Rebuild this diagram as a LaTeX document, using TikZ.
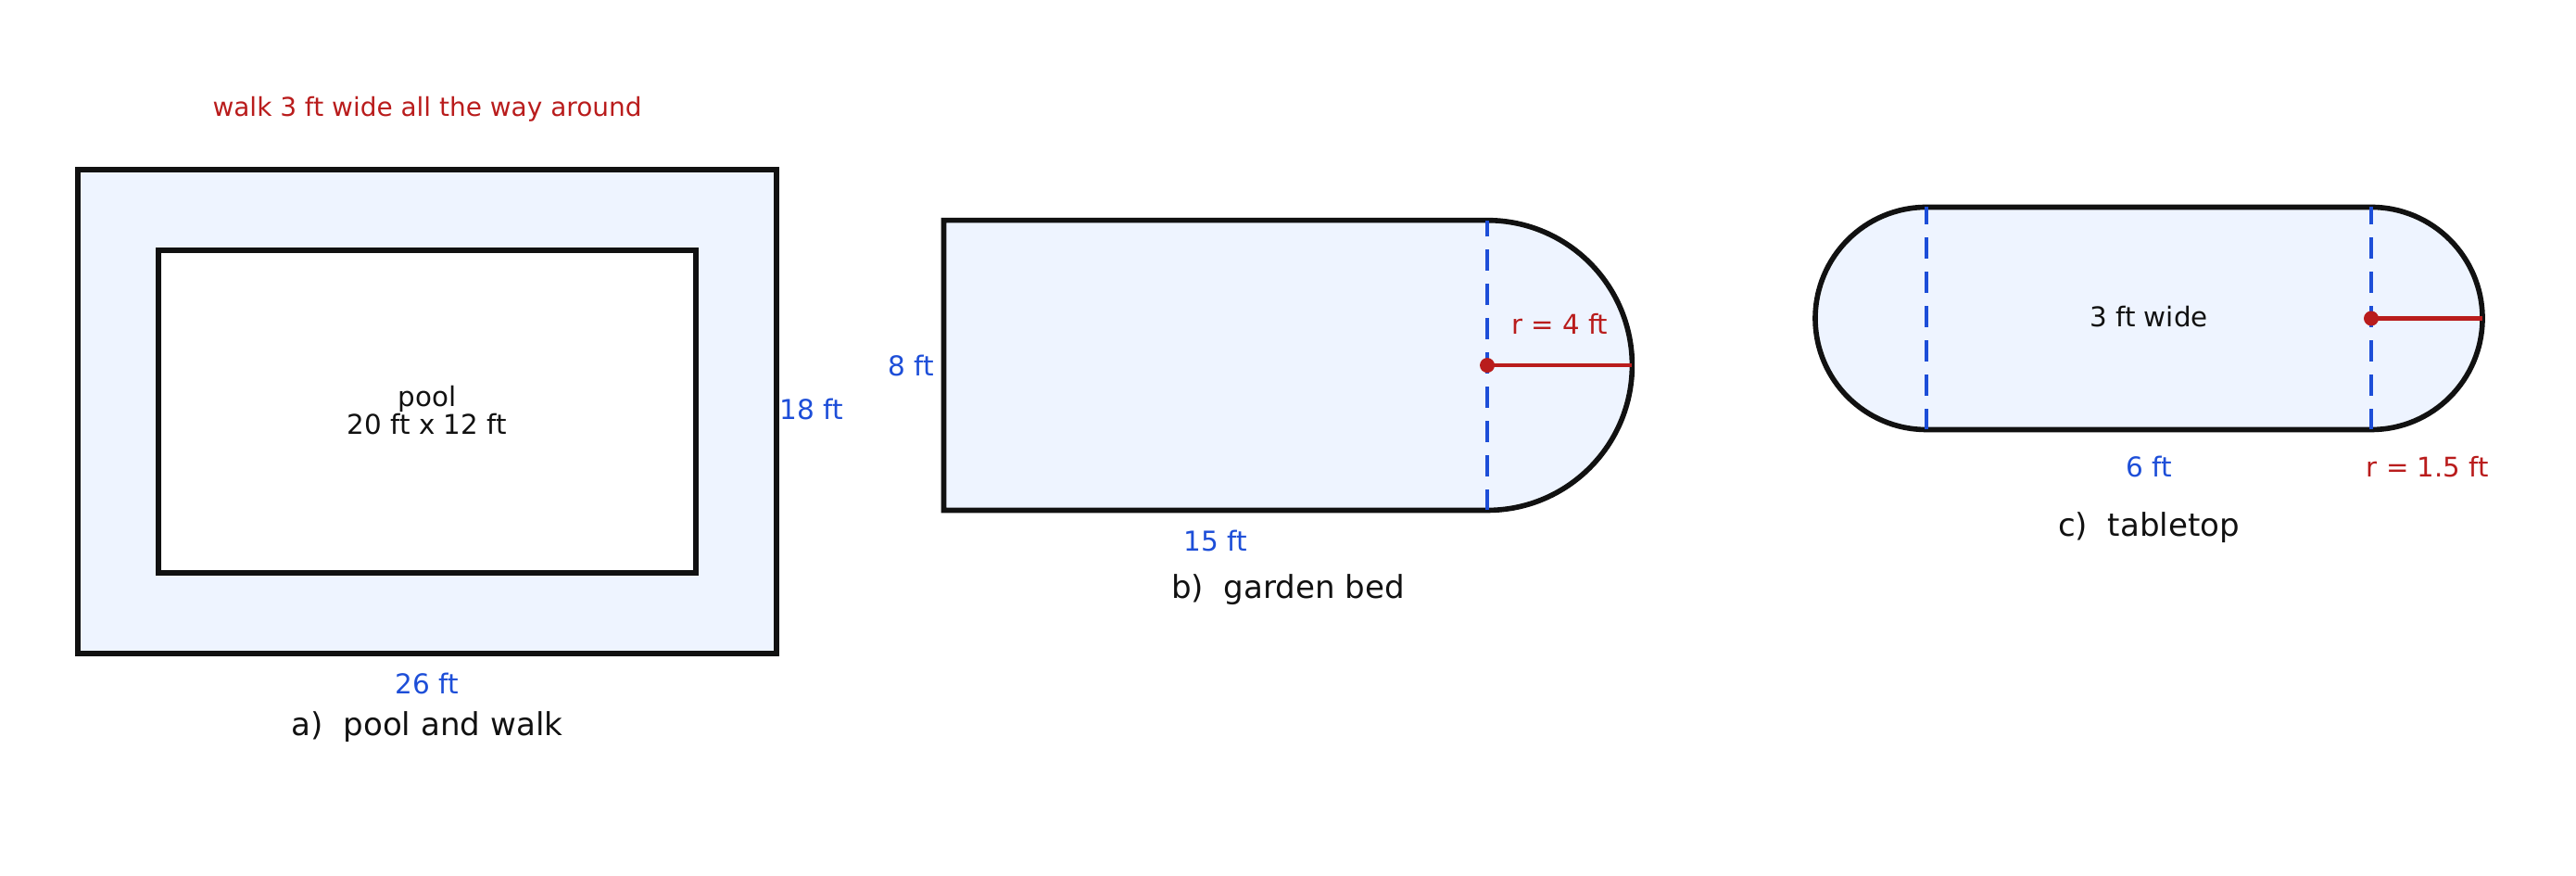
\documentclass[tikz,border=0pt]{standalone}
\usepackage{fontspec}
\setmainfont{DejaVu Sans}
\usepackage{xcolor}
\usetikzlibrary{positioning}

\definecolor{edgeblack}{HTML}{111111}
\definecolor{fillblue}{HTML}{EEF4FF}
\definecolor{dimblue}{HTML}{1D4ED8}
\definecolor{radred}{HTML}{B91C1C}

\tikzset{
    outline/.style={draw=edgeblack, line width=1.6pt, fill=fillblue},
    midline/.style={draw=dimblue, line width=1.15pt, dash pattern=on 6.5pt off 4pt},
    radline/.style={draw=radred, line width=1.3pt},
    dimlabel/.style={text=dimblue, font=\fontsize{8.4}{10}\selectfont, inner sep=0pt},
    redlabel/.style={text=radred, font=\fontsize{8.3}{10}\selectfont, inner sep=0pt},
    notelabel/.style={text=edgeblack, font=\fontsize{8.35}{8.6}\selectfont, inner sep=0pt, align=center},
    caption/.style={text=edgeblack, font=\fontsize{9.7}{12}\selectfont, inner sep=0pt}
}

\begin{document}
\begin{tikzpicture}
    \useasboundingbox (0,0) rectangle (27.8,9.45);

    % a) pool and walk
    \begin{scope}[shift={(0.84,2.40)}, x=0.29cm, y=0.29cm]
        \draw[outline] (0,0) rectangle (26,18);
        \draw[draw=edgeblack, line width=1.5pt, fill=white] (3,3) rectangle (23,15);
        \node[notelabel] (pool) at (13,9.05) {pool\\20 ft x 12 ft};
        \node[redlabel, font=\fontsize{7.95}{10}\selectfont] (walk) at (13,20.25) {walk 3 ft wide all the way around};
        \node[dimlabel, anchor=west] (walkh) at (26.1,9.1) {18 ft};
        \node[dimlabel] (walkw) at (13,-1.12) {26 ft};
        \node[caption] (capa) at (13,-2.72) {a)\ \ pool and walk};
    \end{scope}

    % b) garden bed
    \begin{scope}[shift={(10.185,3.945)}, x=0.391cm, y=0.391cm]
        \draw[outline] (0,0) -- (15,0) arc[start angle=-90, end angle=90, radius=4] -- (0,8) -- cycle;
        \coordinate (btop) at (15,8);
        \coordinate (bbot) at (15,0);
        \coordinate (bc) at (15,4);
        \coordinate (bedge) at (19,4);
        \draw[midline] (bbot) -- (btop);
        \draw[radline] (bc) -- (bedge);
        \fill[radred] (bc) circle[radius=0.08cm];
        \node[redlabel] (brad) at (17,5.13) {r = 4 ft};
        \node[dimlabel, anchor=east] (bh) at (-0.24,4) {8 ft};
        \node[dimlabel] (bw) at (7.5,-0.84) {15 ft};
        \node[caption] (capb) at (9.5,-2.2) {b)\ \ garden bed};
    \end{scope}

    % c) tabletop
    \begin{scope}[shift={(20.79,4.815)}, x=0.80cm, y=0.80cm]
        \draw[outline] (0,0) -- (6,0) arc[start angle=-90, end angle=90, radius=1.5]
            -- (0,3) arc[start angle=90, end angle=270, radius=1.5] -- cycle;
        \foreach \k in {0,6} {
            \coordinate (cbot\k) at (\k,0);
            \coordinate (ctop\k) at (\k,3);
            \draw[midline] (cbot\k) -- (ctop\k);
        }
        \coordinate (cc) at (6,1.5);
        \coordinate (cedge) at (7.5,1.5);
        \draw[radline] (cc) -- (cedge);
        \fill[radred] (cc) circle[radius=0.08cm];
        \node[notelabel] (cwide) at (3,1.52) {3 ft wide};
        \node[dimlabel] (cw) at (3,-0.5) {6 ft};
        \node[redlabel] (crad) at (6.76,-0.5) {r = 1.5 ft};
        \node[caption] (capc) at (3,-1.32) {c)\ \ tabletop};
    \end{scope}
\end{tikzpicture}
\end{document}
